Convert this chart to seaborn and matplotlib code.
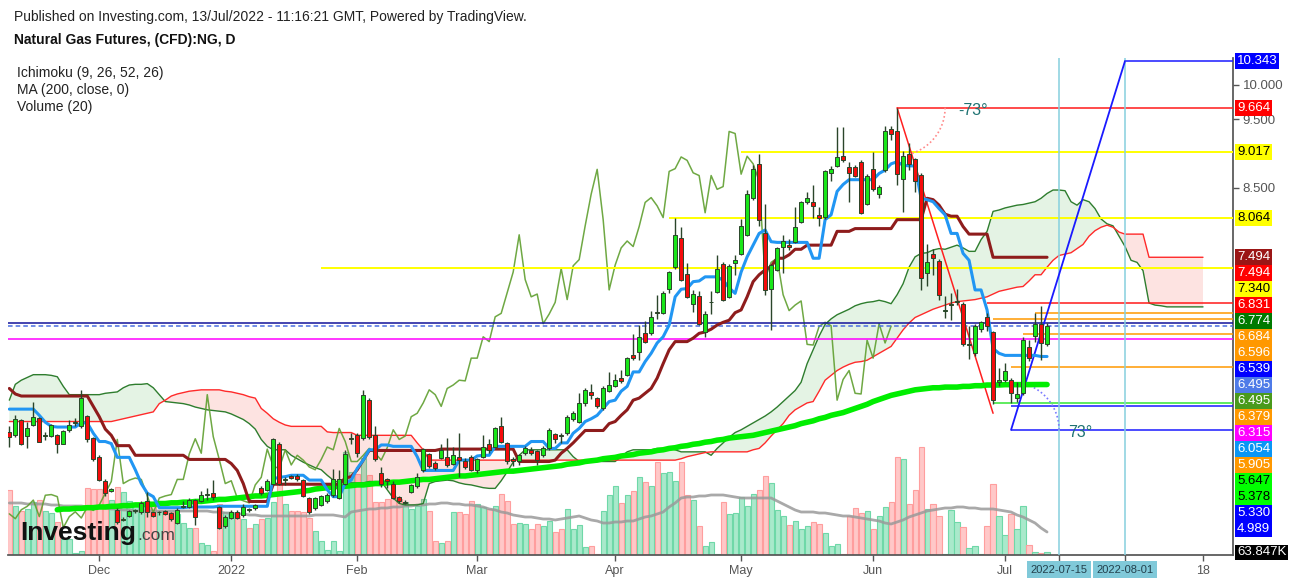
import numpy as np
import pandas as pd
import matplotlib
matplotlib.use("Agg")
import matplotlib.pyplot as plt
import seaborn as sns

sns.set_theme(style="white")
plt.rcParams["font.family"] = ["Liberation Sans", "DejaVu Sans"]

# ---------------------------------------------------------------- data
last_session = "2022-07-13"
closed_days = ["2021-12-24", "2022-07-04"]
n_future = 31

open_ = [4.96, 4.92, 5.13, 4.90, 5.06, 5.16, 4.90, 4.90, 4.92, 4.79,
         4.99, 5.09, 5.04, 5.19, 4.87, 4.60, 4.25, 4.10, 3.83, 3.68,
         3.74, 3.81, 3.79, 3.96, 3.79, 3.79, 3.81, 3.78, 3.64, 3.87,
         3.87, 3.97, 3.96, 4.04, 4.08, 3.87, 3.59, 3.71, 3.80, 3.75,
         3.84, 3.85, 4.14, 4.12, 4.21, 4.78, 4.26, 4.32, 4.32, 4.26,
         4.00, 3.85, 3.90, 3.95, 4.04, 4.00, 4.21, 4.86, 4.91, 4.87,
         5.42, 4.92, 4.37, 4.28, 4.20, 4.02, 3.93, 4.09, 4.17, 4.40,
         4.64, 4.51, 4.58,
         4.59, 4.50, 4.59, 4.53, 4.60, 4.41, 4.60, 4.79, 4.74, 5.05,
         4.80, 4.56, 4.53, 4.65, 4.70, 4.68, 4.62, 4.72, 4.93, 4.91,
         4.94, 5.14, 5.11, 5.38, 5.54, 5.45, 5.30, 5.56, 5.63, 5.74,
         5.79, 6.08, 6.12, 6.40, 6.39, 6.70,
         6.69, 7.04, 7.36, 7.77, 7.25, 6.82, 6.93, 6.41, 6.84, 6.99,
         7.40, 6.92, 7.41, 7.54, 7.82, 8.35, 8.85, 7.84, 7.03, 7.31,
         7.65, 7.67, 7.72, 8.01, 8.30, 8.30, 8.11, 8.08, 8.72, 8.82,
         8.97, 8.80, 8.81, 8.87, 8.27, 8.77, 8.41,
         8.76, 9.35, 9.33, 8.63, 8.99, 8.92, 8.69, 7.26, 7.54, 7.44,
         6.71, 6.80, 6.84, 6.82, 6.22, 6.11, 6.45, 6.62, 6.41, 5.69,
         5.71, 5.71, 5.45, 5.53, 6.19, 6.35, 6.52, 6.24]
high = [5.04, 5.21, 5.14, 5.11, 5.39, 5.17, 4.96, 5.08, 4.93, 4.99,
        5.13, 5.16, 5.57, 5.20, 4.88, 4.62, 4.27, 4.15, 3.85, 3.72,
        3.83, 3.84, 3.95, 4.09, 3.80, 3.81, 3.83, 3.80, 3.85, 3.95,
        4.00, 3.99, 4.10, 4.14, 4.26, 3.89, 3.75, 3.83, 3.82, 3.92,
        3.86, 3.92, 4.18, 4.27, 4.87, 4.81, 4.30, 4.34, 4.35, 4.28,
        4.02, 4.02, 4.05, 4.07, 4.42, 4.40, 4.70, 4.94, 4.94, 5.57,
        5.45, 5.05, 4.45, 4.29, 4.24, 4.03, 3.97, 4.21, 4.36, 4.73,
        4.66, 4.53, 4.79,
        4.87, 4.74, 4.94, 4.58, 4.63, 4.58, 4.91, 4.86, 5.03, 5.17,
        4.82, 4.60, 4.64, 4.75, 4.74, 4.70, 4.75, 5.01, 4.95, 4.95,
        5.20, 5.27, 5.52, 5.59, 5.66, 5.47, 5.63, 5.83, 5.80, 5.86,
        6.05, 6.38, 6.51, 6.57, 6.71, 6.94,
        7.00, 7.30, 8.06, 7.93, 7.41, 7.02, 7.00, 6.72, 7.00, 7.53,
        7.43, 7.39, 7.53, 8.05, 8.47, 8.84, 8.99, 8.27, 7.40, 7.65,
        7.81, 7.76, 8.22, 8.31, 8.44, 8.54, 8.22, 8.76, 8.82, 9.39,
        9.39, 8.87, 8.84, 8.90, 8.70, 9.02, 8.55,
        9.40, 9.40, 9.66, 9.03, 9.15, 8.93, 8.71, 7.69, 7.61, 7.47,
        6.93, 6.97, 7.03, 6.85, 6.50, 6.52, 6.57, 6.69, 6.43, 5.88,
        5.96, 5.74, 5.69, 6.33, 6.29, 6.68, 6.79, 6.54]
low = [4.74, 4.89, 4.77, 4.72, 5.04, 4.81, 4.84, 4.88, 4.66, 4.78,
       4.96, 5.04, 5.01, 4.82, 4.54, 4.24, 4.03, 4.09, 3.63, 3.67,
       3.72, 3.78, 3.77, 3.73, 3.72, 3.76, 3.75, 3.67, 3.62, 3.85,
       3.85, 3.61, 3.94, 3.97, 3.97, 3.55, 3.57, 3.69, 3.69, 3.73,
       3.80, 3.83, 4.05, 4.10, 4.19, 4.19, 4.19, 4.27, 4.25, 4.01,
       3.77, 3.83, 3.88, 3.93, 4.02, 3.98, 4.19, 4.79, 4.60, 4.84,
       4.85, 4.53, 4.16, 4.15, 3.98, 3.93, 3.91, 4.07, 4.15, 4.38,
       4.44, 4.41, 4.56,
       4.45, 4.48, 4.31, 4.42, 4.39, 4.37, 4.58, 4.66, 4.72, 4.80,
       4.50, 4.47, 4.48, 4.63, 4.63, 4.48, 4.60, 4.70, 4.80, 4.80,
       4.92, 5.12, 5.09, 5.33, 5.43, 5.31, 5.28, 5.54, 5.61, 5.67,
       5.77, 6.01, 6.01, 6.25, 6.37, 6.60,
       6.67, 6.98, 7.33, 7.15, 6.90, 6.70, 6.51, 6.34, 6.67, 6.97,
       6.86, 6.90, 7.23, 7.52, 7.80, 8.33, 7.95, 6.95, 6.44, 7.29,
       7.26, 7.60, 7.70, 7.99, 8.27, 8.06, 7.95, 8.05, 8.60, 8.80,
       8.88, 8.29, 8.66, 8.12, 8.25, 8.45, 8.35,
       8.73, 9.20, 8.55, 8.15, 8.76, 8.44, 7.02, 7.08, 7.24, 6.88,
       6.61, 6.58, 6.80, 6.20, 6.02, 6.06, 6.41, 6.42, 5.37, 5.63,
       5.69, 5.38, 5.40, 5.50, 5.99, 6.27, 6.00, 6.21]
close = [4.89, 5.14, 4.78, 5.01, 5.17, 4.82, 4.91, 5.06, 4.78, 4.97,
         5.06, 5.10, 5.45, 4.85, 4.56, 4.26, 4.07, 4.13, 3.65, 3.70,
         3.81, 3.81, 3.93, 3.79, 3.74, 3.79, 3.77, 3.70, 3.83, 3.88,
         3.97, 3.73, 4.04, 4.05, 4.02, 3.57, 3.73, 3.80, 3.71, 3.87,
         3.82, 3.90, 4.07, 4.24, 4.85, 4.21, 4.26, 4.29, 4.27, 4.03,
         3.79, 4.00, 4.03, 4.05, 4.27, 4.27, 4.64, 4.86, 4.65, 5.50,
         4.89, 4.56, 4.21, 4.25, 4.00, 3.96, 3.93, 4.19, 4.30, 4.71,
         4.46, 4.43, 4.70,
         4.48, 4.62, 4.55, 4.45, 4.41, 4.56, 4.74, 4.70, 5.01, 4.82,
         4.53, 4.53, 4.62, 4.72, 4.65, 4.55, 4.73, 4.99, 4.85, 4.90,
         5.18, 5.23, 5.38, 5.57, 5.50, 5.33, 5.59, 5.64, 5.71, 5.70,
         6.03, 6.03, 6.34, 6.27, 6.63, 6.68,
         6.98, 7.28, 7.82, 7.17, 6.92, 6.96, 6.53, 6.67, 6.84, 7.33,
         6.88, 7.37, 7.46, 7.95, 8.41, 8.77, 8.04, 7.02, 7.38, 7.63,
         7.73, 7.65, 7.94, 8.29, 8.36, 8.24, 8.07, 8.74, 8.78, 8.95,
         8.90, 8.72, 8.68, 8.14, 8.68, 8.48, 8.52,
         9.32, 9.29, 8.70, 8.96, 8.85, 8.60, 7.19, 7.42, 7.48, 6.95,
         6.72, 6.80, 6.86, 6.23, 6.22, 6.49, 6.55, 6.50, 5.42, 5.72,
         5.85, 5.52, 5.51, 6.29, 6.03, 6.53, 6.25, 6.495]

volume_k = [1625, 1225, 1100, 1150, 1325, 1375, 1100, 1050, 825, 400,
            400, 50, 100, 1675, 1650, 1650, 1625, 1375, 1700, 1575,
            1350, 1250, 1275, 1325, 1225, 1100, 1075, 1075, 1025, 800,
            675, 675, 300, 250, 100, 1275, 1075, 1025, 975, 900,
            675, 775, 900, 925, 1325, 1775, 1275, 1100, 1100, 1075,
            925, 600, 350, 125, 350, 100, 2575, 2075, 2025, 2425,
            2000, 1325, 1325, 1400, 1475, 1400, 1325, 1150, 1225, 1400,
            1100, 350, 300, 350, 1075, 1075, 1025, 1350, 1275, 1200,
            1150, 1225, 1525, 1350, 775, 800, 775, 650, 775, 725,
            850, 575, 650, 1150, 650, 750, 200, 225, 25, 1100,
            1500, 1725, 1300, 1500, 1600, 1950, 1825, 1725, 2325, 2050,
            2075, 1850, 2325, 1500, 1375, 725, 225, 325, 25, 1325,
            1025, 1050, 1450, 1225, 1525, 1625, 1975, 1800, 1125, 975,
            750, 850, 650, 725, 825, 775, 550, 225, 275, 25,
            975, 1175, 1050, 1100, 650, 975, 1200, 1325, 2450, 2400,
            1275, 1625, 2700, 1150, 1275, 975, 25, 1125, 825, 700,
            175, 225, 25, 725, 1775, 975, 500, 1025, 650, 1225,
            250, 75, 50, 63.847]

volume_ma_k = ([1300, 1300, 1300, 1275, 1275, 1275, 1275, 1250, 1250, 1225,
                1225, 1225, 1225, 1200, 1200, 1200, 1175, 1150, 1150, 1125,
                1125] + [1100] * 13 + [1075, 1075, 1050, 1050, 1025, 1025,
                1000, 1000, 975, 975] + [975] * 6 +
               [975, 1000, 1000, 1000, 1000, 975, 950, 1075, 1100, 1125,
                1150, 1150, 1175, 1175, 1200, 1200, 1225, 1225, 1250, 1250,
                1275, 1275, 1300, 1300, 1275, 1275, 1250, 1250, 1225, 1200,
                1150, 1125, 1075, 1050, 1000, 975, 950, 950, 925, 900,
                900, 875, 900, 925, 950, 975, 925, 875, 850, 800,
                800, 825, 825, 850, 850, 900, 950, 975, 1025, 1075,
                1200, 1300, 1425, 1450, 1450, 1475, 1475, 1500, 1500, 1500,
                1475, 1450, 1425, 1425, 1425, 1425, 1425, 1425, 1350, 1275,
                1200, 1125, 1075, 1075, 1075, 1050, 1050, 1025, 1000, 975,
                975, 950, 925, 900, 875, 850, 800, 775, 825, 875,
                950, 1000, 1050, 1100, 1125, 1150, 1175, 1175, 1200, 1200,
                1175, 1175, 1150, 1150, 1150, 1125, 1100, 1075, 1000, 950,
                875, 800, 675, 575])

tenkan = ([5.29] * 5 + [5.20, 5.10, 5.04] + [5.03] * 4 + [5.09] * 2 +
          [4.94, 4.82, 4.82, 4.79] + [4.59] * 3 + [4.41, 4.21, 4.07, 4.02] +
          [3.86] * 5 + [3.87] * 5 + [3.88] * 9 +
          [4.28, 4.30, 4.31] + [4.33] * 3 + [4.26] * 3 + [4.12, 4.02, 4.02,
          4.21, 4.26, 4.43, 4.55, 4.70, 4.70, 4.77, 4.77] + [4.75] * 4 +
          [4.60] + [4.40] * 6 + [4.55] * 3 + [4.61, 4.62, 4.62] +
          [4.75] * 6 + [4.82] * 3 + [4.72, 4.72, 4.80, 4.80, 4.94, 5.01,
          5.11, 5.15, 5.20, 5.30, 5.40, 5.42, 5.55, 5.62, 5.83, 5.83, 5.98,
          6.10, 6.25, 6.34, 6.51, 6.92, 7.03, 7.04, 7.14, 7.15, 7.21, 7.21,
          7.21, 7.16, 7.05, 6.97, 7.28, 7.50, 7.67, 7.84, 7.89, 7.72] +
          [7.71] * 6 + [7.48, 7.48, 8.04, 8.11, 8.45, 8.55] + [8.62] * 5 +
          [8.71, 8.76, 8.85, 8.88, 8.83, 8.82, 8.82, 8.35, 8.33, 8.30, 8.20,
           8.11, 7.84, 7.84, 7.55, 7.45, 7.02, 7.02, 6.73, 6.17, 6.10] +
          [6.07] * 6 + [6.054, 6.054])

kijun = ([5.59, 5.51] + [5.48] * 12 + [5.33, 5.18, 5.00, 4.91] + [4.76] * 3 +
         [4.62] * 9 + [4.56] * 7 + [4.50, 4.40, 4.21] + [3.95] * 4 +
         [4.20] * 12 + [4.29, 4.31, 4.41, 4.55] + [4.69] * 12 +
         [4.71] * 13 + [4.53] * 6 + [4.55, 4.65, 4.72, 4.80, 4.89] +
         [4.98] * 4 + [5.08, 5.11, 5.20, 5.28, 5.42, 5.45, 5.52, 5.59, 5.74,
                       5.95, 6.15, 6.27, 6.27, 6.27, 6.32, 6.39, 6.41, 6.45,
                       6.51, 6.55, 6.58, 6.69, 6.73, 6.92, 7.14, 7.24, 7.31,
                       7.36, 7.48, 7.48, 7.53, 7.61, 7.61] +
         [7.67] * 5 + [7.87] * 3 + [7.91] * 7 + [8.04] * 5 +
         [8.35, 8.33, 8.25, 8.12, 8.09, 8.09, 7.94] + [7.83] * 4 +
         [7.494] * 10)

span_a = ([5.42, 5.65, 5.71, 5.75, 5.79, 5.79, 5.79, 5.78, 5.76, 5.62] +
          [5.50] * 6 + [5.52, 5.53, 5.54, 5.60, 5.64, 5.65, 5.65, 5.66, 5.60,
          5.50, 5.40, 5.39, 5.38, 5.37, 5.35, 5.32, 5.30, 5.28, 5.27, 5.26,
          5.25, 5.22, 5.18, 5.14, 5.08, 5.00, 4.85, 4.75, 4.70, 4.70, 4.70,
          4.62, 4.57, 4.52, 4.48, 4.44, 4.41, 4.33, 4.26] + [4.22] * 5 +
          [4.24] * 3 + [4.12, 4.00, 3.92, 3.90, 3.90, 3.90, 3.92, 4.21, 4.24,
          4.25, 4.26, 4.25, 4.22, 4.20, 4.19, 4.17, 4.15, 4.14, 4.14, 4.25,
          4.38, 4.52, 4.62] + [4.70] * 8 + [4.60] + [4.53] * 7 +
          [4.60, 4.67, 4.70, 4.70, 4.70, 4.70, 4.72, 4.72, 4.72, 4.70] +
          [4.67] * 5 + [4.62, 4.72, 4.80, 4.88, 4.95, 4.99, 5.04, 5.09, 5.14,
          5.19, 5.25, 5.32, 5.40, 5.48, 5.56, 5.68, 5.95, 6.15, 6.35, 6.52,
          6.60, 6.66, 6.70, 6.74, 6.79, 6.82, 6.84, 6.85, 6.87, 6.85, 6.82,
          6.95, 7.11, 7.35, 7.50, 7.55, 7.56, 7.60, 7.62, 7.61, 7.64, 7.67,
          7.63, 7.58, 7.58, 7.75, 7.87, 8.16, 8.18, 8.21, 8.23, 8.25, 8.26,
          8.28, 8.30, 8.35, 8.42, 8.47, 8.47, 8.46, 8.30, 8.25, 8.33, 8.30,
          8.20, 8.05, 7.98, 7.95, 7.80, 7.65, 7.45, 7.42, 7.30, 6.83, 6.80,
          6.79] + [6.774] * 7)

span_b = ([5.11] * 18 + [5.13, 5.15, 5.17, 5.19, 5.21, 5.23, 5.25, 5.37, 5.42,
          5.48, 5.51, 5.53, 5.55, 5.56] + [5.57] * 4 +
          [5.55, 5.54, 5.52, 5.50, 5.47, 5.45, 5.30, 5.23, 5.15, 5.10, 5.06] +
          [5.04] * 6 + [4.96] + [4.95] * 4 + [4.91] * 10 + [4.80, 4.70] +
          [4.55] * 42 + [4.57, 4.60, 4.62, 4.64, 4.66] + [4.67] * 7 +
          [4.70, 4.72, 4.80, 4.90, 4.99, 5.08, 5.20, 5.28, 5.33, 5.38, 5.40,
           5.55, 5.71, 5.78, 5.85, 5.90, 5.94, 5.97, 5.98, 6.00, 6.05, 6.10,
           6.15, 6.20, 6.32, 6.44, 6.54, 6.62, 6.66, 6.70, 6.74, 6.77, 6.80,
           6.83, 6.85, 6.86, 6.87, 6.88, 6.90, 6.92, 6.96, 7.00, 7.02, 7.04,
           7.06, 7.07, 7.15, 7.24, 7.24, 7.35, 7.45, 7.52, 7.54, 7.56, 7.62,
           7.68, 7.80, 7.88, 7.93, 7.96, 7.93, 7.86] + [7.83] * 4 +
          [7.494] * 10)

ma200_first_session = "2021-11-22"
ma200 = [3.83, 3.84, 3.84, 3.85, 3.85, 3.86, 3.86, 3.87, 3.87, 3.88,
         3.88, 3.89, 3.89, 3.90, 3.90, 3.91, 3.91, 3.92, 3.92, 3.93,
         3.93, 3.94, 3.94, 3.95, 3.95, 3.96, 3.97, 3.98, 3.98, 3.99,
         4.00, 4.01, 4.02, 4.03, 4.03, 4.04, 4.05, 4.06, 4.07, 4.08,
         4.09, 4.10, 4.11, 4.13, 4.14, 4.15, 4.16, 4.17, 4.17, 4.18,
         4.19, 4.19, 4.20, 4.21, 4.21, 4.22, 4.23, 4.23, 4.24, 4.25,
         4.26, 4.27, 4.27, 4.28, 4.29, 4.30, 4.31, 4.32, 4.32, 4.33,
         4.34, 4.35, 4.36, 4.37, 4.38, 4.39, 4.39, 4.40, 4.41, 4.42,
         4.43, 4.44, 4.45, 4.46, 4.47, 4.49, 4.50, 4.51, 4.53, 4.54,
         4.55, 4.57, 4.58, 4.59, 4.61, 4.62, 4.63, 4.65, 4.66, 4.67,
         4.69, 4.70, 4.72, 4.73, 4.75, 4.76, 4.78, 4.79, 4.81, 4.82,
         4.84, 4.85, 4.87, 4.88, 4.89, 4.90, 4.91, 4.93, 4.95, 4.97,
         4.99, 5.01, 5.03, 5.05, 5.08, 5.10, 5.12, 5.15, 5.17, 5.20,
         5.22, 5.24, 5.27, 5.30, 5.33, 5.36, 5.40, 5.43, 5.46, 5.49,
         5.51, 5.53, 5.55, 5.57, 5.58, 5.59, 5.60, 5.60, 5.61, 5.61,
         5.61, 5.62, 5.62, 5.63, 5.63, 5.64, 5.64, 5.64, 5.645, 5.645,
         5.646, 5.646, 5.646, 5.647, 5.647, 5.647]

chikou_shift = 26

# drawn horizontal levels: value, first session
level_values = [10.343, 9.664, 9.017, 8.064, 7.340, 6.831, 6.684, 6.596,
                6.379, 5.905, 5.378, 5.330, 4.989]
level_start = ["2022-08-01", "2022-06-07", "2022-05-02", "2022-04-14",
               "2022-01-24", "2022-06-28", "2022-07-11", "2022-06-29",
               "2022-07-07", "2022-07-05", "2022-06-29", "2022-07-05",
               "2022-07-05"]
fullwidth_levels = [6.539, 6.495, 6.315]

# trend-angle tools: (start date, start price, end date, end price)
angle_down = ("2022-06-07", 9.664, "2022-06-29", 5.23)
angle_up = ("2022-07-05", 4.989, "2022-08-01", 10.343)
angle_texts = ["-73°", "73°"]

marker_dates = ["2022-07-15", "2022-08-01"]

tick_dates = ["2021-12-01", "2022-01-03", "2022-02-01", "2022-03-01",
              "2022-04-01", "2022-05-02", "2022-06-01", "2022-07-01",
              "2022-07-15", "2022-08-01", "2022-08-18"]
tick_labels = ["Dec", "2022", "Feb", "Mar", "Apr", "May", "Jun", "Jul",
               "2022-07-15", "2022-08-01", "18"]

axis_label_values = [10.343, 9.664, 9.017, 8.064, 7.494, 7.494, 7.340, 6.831,
                     6.774, 6.684, 6.596, 6.539, 6.495, 6.495, 6.379, 6.315,
                     6.054, 5.905, 5.647, 5.378, 5.330, 4.989]
volume_label_text = "63.847K"

header_line = "Published on Investing.com, 13/Jul/2022 - 11:16:21 GMT, Powered by TradingView."
title_line = "Natural Gas Futures, (CFD):NG, D"
legend_lines = ["Ichimoku (9, 26, 52, 26)", "MA (200, close, 0)", "Volume (20)"]

# ---------------------------------------------------------------- styles
axis_label_bg = ["#0000ff", "#ff0000", "#ffff00", "#ffff00", "#9b1616", "#ff0000",
                 "#ffff00", "#ff0000", "#007a00", "#ff9800", "#ff9800", "#0000ff",
                 "#4f7be8", "#4a9a1c", "#ff9800", "#ff00ff", "#0a96f5", "#ff9800",
                 "#00ff00", "#00ff00", "#0000ff", "#0000ff"]
axis_label_fg = ["white", "white", "black", "black", "white", "white", "black",
                 "white", "white", "white", "white", "white", "white", "white",
                 "white", "white", "white", "white", "black", "black", "white",
                 "white"]
level_colors = ["#1a1aff", "#ff1a1a", "#ffff00", "#ffff00", "#ffff00", "#ff1a1a",
                "#ff9800", "#ff9800", "#ff9800", "#ff9800", "#33e633", "#1a1aff",
                "#1a1aff"]
fullwidth_styles = [("#12129a", "-"), ("#4a6ee0", (0, (3, 2))), ("#ff00ff", "-")]

# ---------------------------------------------------------------- sanity
n_hist = len(close)
for name, arr, n in [("open", open_, n_hist), ("high", high, n_hist),
                     ("low", low, n_hist), ("volume", volume_k, n_hist),
                     ("vol ma", volume_ma_k, n_hist), ("tenkan", tenkan, n_hist),
                     ("kijun", kijun, n_hist),
                     ("span_a", span_a, n_hist + chikou_shift),
                     ("span_b", span_b, n_hist + chikou_shift)]:
    assert len(arr) == n, (name, len(arr), n)

# ---------------------------------------------------------------- calendar
all_days = pd.bdate_range("2021-10-01", "2022-10-31")
all_days = all_days[~all_days.isin(pd.to_datetime(closed_days))]
end = all_days.get_loc(pd.Timestamp(last_session))
days = all_days[end - n_hist + 1:end + 1 + n_future]
pos = {d.strftime("%Y-%m-%d"): i for i, d in enumerate(days)}

x = np.arange(n_hist)
o = np.array(open_); h = np.array(high); l = np.array(low); c = np.array(close)
up = c >= o

W, H = 1299, 580
fig = plt.figure(figsize=(W / 100, H / 100), dpi=100)
fig.patch.set_facecolor("white")
rect = [8 / W, 25 / H, 1225 / W, 497 / H]
axv = fig.add_axes(rect)
ax = axv.twinx()

x_left, x_right = -0.22, 204.0
axv.set_xlim(x_left, x_right)
axv.set_ylim(0, 12425)
ax.set_ylim(3.173, 10.386)

# volume
vol_face = np.where(up, "#a9e9cb", "#ffc8c8")
vol_edge = np.where(up, "#6fd8a8", "#ff9e9e")
axv.bar(x, volume_k, width=0.86, color=vol_face, edgecolor=vol_edge, linewidth=0.8)
sns.lineplot(x=x, y=volume_ma_k, ax=axv, color="#9a9a9a", linewidth=2.0, alpha=0.85)

# cloud
xf = np.arange(len(span_a))
sa = np.array(span_a); sb = np.array(span_b)
ax.fill_between(xf, sa, sb, where=sa >= sb, interpolate=True, color="#4caf50", alpha=0.15, linewidth=0, zorder=1)
ax.fill_between(xf, sa, sb, where=sa < sb, interpolate=True, color="#f44336", alpha=0.15, linewidth=0, zorder=1)
sns.lineplot(x=xf, y=sa, ax=ax, color="#2e7d2e", linewidth=1.0, zorder=2)
sns.lineplot(x=xf, y=sb, ax=ax, color="#ff2a2a", linewidth=1.0, zorder=2)

# chikou
xc = np.arange(n_hist - chikou_shift)
sns.lineplot(x=xc, y=c[chikou_shift:], ax=ax, color="#5f9f2f", linewidth=1.1, alpha=0.9, zorder=2)

# horizontal levels
for v, d, col in zip(level_values, level_start, level_colors):
    lw = 1.4 if col == "#ffff00" else 1.1
    ax.hlines(v, pos[d], x_right, color=col, linewidth=lw, zorder=3)
for v, (col, ls) in zip(fullwidth_levels, fullwidth_styles):
    ax.hlines(v, x_left, x_right, color=col, linewidth=1.1, linestyles=[ls], zorder=3)

# markers
for d in marker_dates:
    ax.axvline(pos[d], color="#86d0de", linewidth=1.1, zorder=3)

# MA / tenkan / kijun
xm = np.arange(pos[ma200_first_session], pos[ma200_first_session] + len(ma200))
sns.lineplot(x=xm, y=ma200, ax=ax, color="#00ee00", linewidth=4.0, zorder=4)
sns.lineplot(x=x, y=kijun, ax=ax, color="#8e1c1c", linewidth=2.2, zorder=4)
sns.lineplot(x=x, y=tenkan, ax=ax, color="#2196f3", linewidth=2.2, zorder=4)

# angle tools
d0, p0, d1, p1 = angle_down
ax.plot([pos[d0], pos[d1]], [p0, p1], color="#ff2020", linewidth=1.1, zorder=3)
d0u, p0u, d1u, p1u = angle_up
ax.plot([pos[d0u], pos[d1u]], [p0u, p1u], color="#1a1aff", linewidth=1.3, zorder=3)


def arc(center, start_deg, end_deg, r=48):
    cx, cy = ax.transData.transform(center)
    th = np.radians(np.linspace(start_deg, end_deg, 40))
    pts = np.column_stack([cx + r * np.cos(th), cy + r * np.sin(th)])
    return ax.transData.inverted().transform(pts)


a1 = arc((pos[d0], p0), 0, -73)
ax.plot(a1[:, 0], a1[:, 1], color="#ff8a8a", linewidth=1.2, linestyle=(0, (1, 1.5)), zorder=3)
a2 = arc((pos[d0u], p0u), 0, 73)
ax.plot(a2[:, 0], a2[:, 1], color="#7a7aff", linewidth=1.2, linestyle=(0, (1, 1.5)), zorder=3)
for (dd, pp), txt in zip([(d0, p0), (d0u, p0u)], angle_texts):
    cx, cy = ax.transData.transform((pos[dd], pp))
    off = 61 if txt.startswith("-") else 57
    fig.text((cx + off) / W, (cy - 3) / H, txt, color="#1e7272", fontsize=11.5,
             ha="left", va="center")

# candles
ax.vlines(x, l, h, color="#2a452a", linewidth=1.0, zorder=5)
body_lo = np.minimum(o, c)
body_h = np.maximum(np.abs(c - o), 0.012)
ax.bar(x, body_h, bottom=body_lo, width=0.68,
       color=np.where(up, "#19e619", "#f50c0c"),
       edgecolor="#2a452a", linewidth=0.7, zorder=6)

# axes styling
for s in ["top", "left", "right"]:
    axv.spines[s].set_visible(False)
axv.spines["bottom"].set_color("#555555")
axv.set_yticks([])
for s in ["top", "left", "bottom"]:
    ax.spines[s].set_visible(False)
ax.spines["right"].set_color("#555555")
ax.set_xlabel(""); ax.set_ylabel(""); axv.set_xlabel(""); axv.set_ylabel("")

ax.set_yticks([8.5, 9.5, 10.0])
ax.set_yticklabels(["8.500", "9.500", "10.000"])
ax.tick_params(axis="y", right=True, left=False, labelright=True, labelleft=False,
               length=4, width=1, color="#555555", labelcolor="#555555",
               labelsize=9.5, pad=3)

axv.set_xticks([pos[d] for d in tick_dates])
axv.set_xticklabels(tick_labels)
axv.tick_params(axis="x", bottom=True, length=4, width=1, color="#555555",
                labelcolor="#555555", labelsize=9, pad=3)
for lbl in axv.get_xticklabels():
    if lbl.get_text() in marker_dates:
        lbl.set_fontsize(8)
        lbl.set_bbox(dict(facecolor="#80c9d9", edgecolor="none", boxstyle="square,pad=0.3"))
        lbl.set_color("#23404c")

# right-side value labels with collision stacking
prev = 1e9
for v, bg, fg in zip(axis_label_values, axis_label_bg, axis_label_fg):
    yd = ax.transData.transform((0, v))[1]
    yd = min(yd, prev - 16)
    prev = yd
    fig.text(1237 / W, yd / H, f"{v:.3f}", color=fg, fontsize=9.5, ha="left",
             va="center", bbox=dict(facecolor=bg, edgecolor="none", boxstyle="square,pad=0.14"))
yd = axv.transData.transform((0, volume_k[-1]))[1]
yd = min(yd, prev - 16)
fig.text(1237 / W, yd / H, volume_label_text, color="white", fontsize=9.5, ha="left",
         va="center", bbox=dict(facecolor="black", edgecolor="none", boxstyle="square,pad=0.14"))

# header / legend
fig.text(14 / W, 1 - 17 / H, header_line, fontsize=10, color="#222222", va="center")
fig.text(14 / W, 1 - 40 / H, title_line, fontsize=10, color="#111111", va="center", fontweight="bold")
for k, t in enumerate(legend_lines):
    fig.text(17 / W, 1 - (73 + 17 * k) / H, t, fontsize=10, color="#222222", va="center")

# logo
fig.text(20 / W, 1 - 533 / H, "Investing", fontsize=19, fontweight="bold", color="#111111", va="center")
fig.text(137 / W, 1 - 536 / H, ".com", fontsize=12.5, color="#444444", va="center")

fig.savefig("out.png", dpi=100, facecolor="white")
